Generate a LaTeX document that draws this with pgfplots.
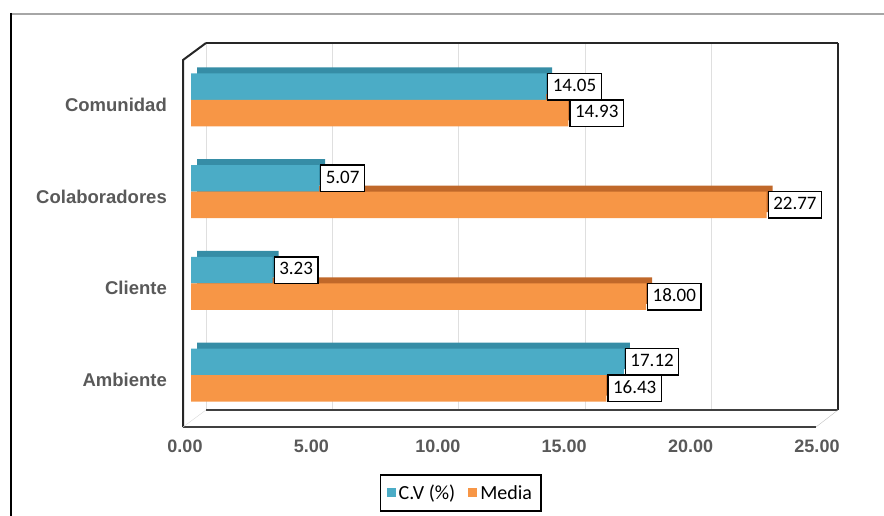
\documentclass[border=0pt]{standalone}
\usepackage{pgfplots}
\pgfplotsset{compat=1.18}
\usepackage{fontspec}
\setmainfont{Liberation Sans}
\newfontfamily\calibri{Carlito}
\definecolor{cvf}{HTML}{4BACC6}
\definecolor{cvd}{HTML}{368DA6}
\definecolor{mf}{HTML}{F79646}
\definecolor{md}{HTML}{C0682A}
\definecolor{lab}{HTML}{595959}
\begin{document}
\begin{tikzpicture}
\useasboundingbox (0pt,0pt) rectangle (884pt,-516pt);
% outer frame
\draw[gray!70, line width=2pt] (11pt,-14pt) -- (884pt,-14pt);
\draw[black, line width=2pt] (11pt,-13pt) -- (11pt,-516pt);
% back wall gridlines
\foreach \gx in {206,332.4,458.8,585.2,711.6}
  \draw[gray!25, line width=0.8pt] (\gx pt,-43pt) -- (\gx pt,-410pt);
\draw[black!85, line width=2pt] (206pt,-43pt) -- (838pt,-43pt);
\draw[black!85, line width=1.5pt] (838pt,-43pt) -- (838pt,-410pt);
\draw[black!85, line width=2pt] (183pt,-427pt) -- (183pt,-60pt) -- (206pt,-43pt);
\draw[black!75, line width=1.5pt] (206pt,-410pt) -- (838pt,-410pt);
\draw[black!75, line width=2pt] (183pt,-427pt) -- (816pt,-427pt);
\draw[gray!50] (816pt,-427pt) -- (838pt,-410pt);
\draw[gray!30] (183pt,-427pt) -- (206pt,-410pt);
\begin{axis}[
  at={(191pt,-421pt)}, anchor=south west,
  scale only axis, width=632pt, height=367pt,
  xmin=0, xmax=25, ymin=-0.5, ymax=3.5,
  clip=false,
  xbar, bar width=26.5pt,
  axis line style={draw=none},
  major tick length=0pt,
  xtick={0,5,10,15,20,25},
  ytick={0,1,2,3},
  yticklabels={Ambiente,Cliente,Colaboradores,Comunidad},
  /pgf/number format/fixed,
  /pgf/number format/fixed zerofill,
  /pgf/number format/precision=2,
  /pgf/number format/assume math mode=true,
  xticklabel style={anchor=center, yshift=-25pt, xshift=-6pt, font=\bfseries\fontsize{18}{20}\selectfont, text=lab},
  yticklabel style={anchor=east, inner sep=0pt, xshift=-24pt, yshift=-5pt, font=\bfseries\fontsize{18.5}{22}\selectfont, text=lab},
  point meta=x,
  every node near coord/.append style={draw=black, line width=1.3pt, fill=white, text=black, font=\calibri\fontsize{19}{22}\selectfont, anchor=west, inner xsep=5pt, inner ysep=5pt, text height=13pt, text depth=3.5pt, xshift=1pt},
  legend style={at={(0.427,-0.196)}, anchor=center, draw=black, line width=1.5pt, font=\calibri\fontsize{20}{23}\selectfont, legend columns=2, inner xsep=6pt, inner ysep=8pt, nodes={inner xsep=3pt}, /tikz/every even column/.append style={column sep=10pt}},
  legend image code/.code={\draw[#1, draw=none] (0pt,-4.5pt) rectangle (9pt,4.5pt);},
]
\addplot[forget plot, fill=md, draw=none, bar shift=-13.25pt, xshift=6pt, yshift=6pt] coordinates {(16.43,0) (18.00,1) (22.77,2) (14.93,3)};
\addplot[forget plot, fill=cvd, draw=none, bar shift=13.25pt, xshift=6pt, yshift=6pt] coordinates {(17.12,0) (3.23,1) (5.07,2) (14.05,3)};
\addplot[fill=cvf, draw=none, bar shift=13.25pt, nodes near coords] coordinates {(17.12,0) (3.23,1) (5.07,2) (14.05,3)};
\addlegendentry{C.V (\%)}
\addplot[fill=mf, draw=none, bar shift=-13.25pt, nodes near coords] coordinates {(16.43,0) (18.00,1) (22.77,2) (14.93,3)};
\addlegendentry{Media}
\end{axis}
\end{tikzpicture}
\end{document}
